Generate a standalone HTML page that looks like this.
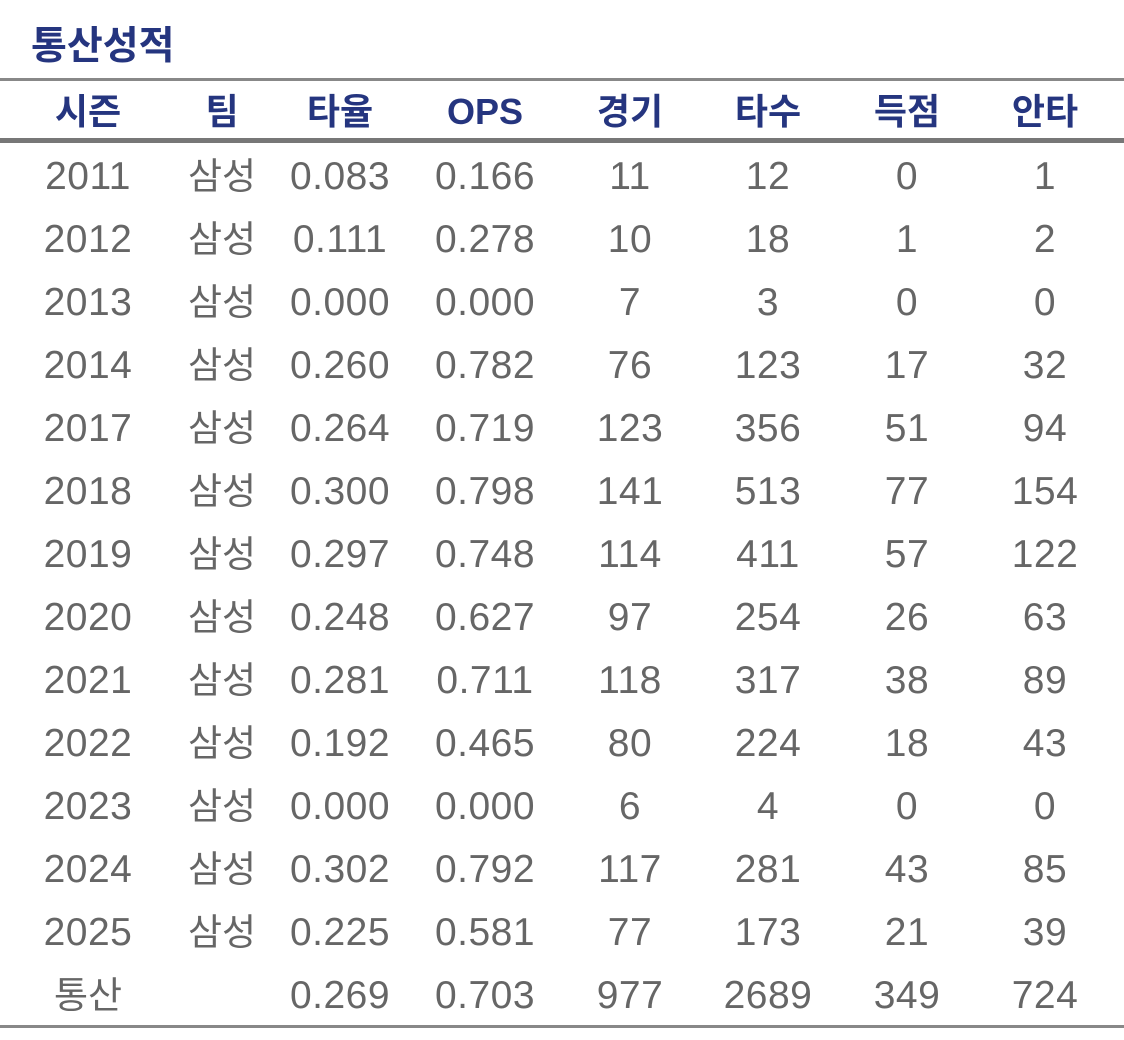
<!DOCTYPE html>
<html><head><meta charset="utf-8"><style>
body{margin:0;width:1124px;height:1040px;background:#fff;position:relative;overflow:hidden;font-family:"Liberation Sans","Noto Sans CJK KR",sans-serif}
.t{position:absolute;left:31px;top:23px;font-size:39px;font-weight:bold;color:#25357f;line-height:48px}
.l{position:absolute;left:0;width:1124px;background:#888}
.r{position:absolute;left:0;width:1124px;height:44px;line-height:44px}
.r span{position:absolute;width:200px;margin-left:-100px;text-align:center}
.h{color:#25357f;font-weight:bold;font-size:36px}
.d{color:#666;font-size:39px;letter-spacing:0.5px}
.d span.k{font-size:37px;letter-spacing:0}
</style></head><body>
<div class="t">통산성적</div>
<div class="l" style="top:78px;height:3px"></div>
<div class="l" style="top:138px;height:5px;background:#777"></div>
<div class="l" style="top:1025px;height:3px"></div>
<div id="c"></div>
<script>
var xs=[88,222,340,485,630,768,907,1045];
var rows=[["시즌","팀","타율","OPS","경기","타수","득점","안타"],
["2011","삼성","0.083","0.166","11","12","0","1"],
["2012","삼성","0.111","0.278","10","18","1","2"],
["2013","삼성","0.000","0.000","7","3","0","0"],
["2014","삼성","0.260","0.782","76","123","17","32"],
["2017","삼성","0.264","0.719","123","356","51","94"],
["2018","삼성","0.300","0.798","141","513","77","154"],
["2019","삼성","0.297","0.748","114","411","57","122"],
["2020","삼성","0.248","0.627","97","254","26","63"],
["2021","삼성","0.281","0.711","118","317","38","89"],
["2022","삼성","0.192","0.465","80","224","18","43"],
["2023","삼성","0.000","0.000","6","4","0","0"],
["2024","삼성","0.302","0.792","117","281","43","85"],
["2025","삼성","0.225","0.581","77","173","21","39"],
["통산","","0.269","0.703","977","2689","349","724"]];
var h="";
rows.forEach(function(r,i){
 var cy=i==0?112:177+(i-1)*63;
 h+='<div class="r '+(i==0?'h':'d')+'" style="top:'+(cy-22)+'px">';
 r.forEach(function(v,j){var k=/[가-힣]/.test(v)?' class="k"':'';h+='<span'+k+' style="left:'+xs[j]+'px">'+v+'</span>'});
 h+='</div>';
});
document.getElementById("c").innerHTML=h;
</script>
</body></html>
